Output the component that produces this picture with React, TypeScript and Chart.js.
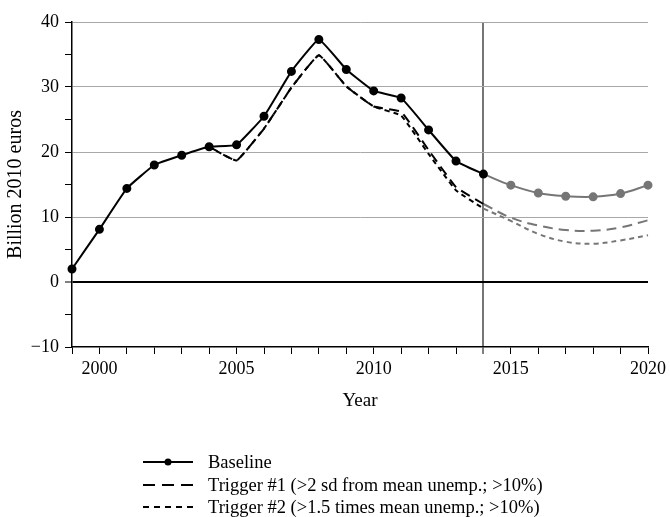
import React, { useEffect, useRef } from "react";
import { Chart, registerables } from "chart.js";

Chart.register(...registerables);

// ---- data ----
const years = [1999, 2000, 2001, 2002, 2003, 2004, 2005, 2006, 2007, 2008, 2009, 2010, 2011, 2012, 2013, 2014, 2015, 2016, 2017, 2018, 2019, 2020];
const baseline = [2.0, 8.1, 14.4, 18.0, 19.5, 20.8, 21.1, 25.5, 32.4, 37.3, 32.7, 29.4, 28.3, 23.4, 18.6, 16.6, 14.9, 13.7, 13.2, 13.1, 13.6, 14.9];
const trigger1 = [null, null, null, null, null, 20.8, 18.7, 23.6, 29.9, 34.9, 30.1, 27.0, 26.2, 20.3, 14.6, 12.0, 9.9, 8.7, 8.0, 7.9, 8.4, 9.5];
const trigger2 = [null, null, null, null, null, 20.8, 18.7, 23.6, 29.9, 34.9, 30.1, 27.0, 25.6, 19.7, 14.1, 11.3, 9.4, 7.4, 6.2, 5.9, 6.4, 7.2];
const projectionStart = 2014;
const seriesNames = ["Baseline", "Trigger #1 (>2 sd from mean unemp.; >10%)", "Trigger #2 (>1.5 times mean unemp.; >10%)"];
const yTicksMajor = [-10, 0, 10, 20, 30, 40];
const xTicksMajor = [2000, 2005, 2010, 2015, 2020];

const FONT = "'Liberation Serif', 'Times New Roman', serif";
const BLACK = "#000000";
const GRAY = "#767676";

function part(values: (number | null)[], hist: boolean) {
  return years.map((x, i) => ({
    x,
    y: (hist ? x <= projectionStart : x >= projectionStart) ? values[i] : null,
  }));
}

export default function App() {
  const ref = useRef<HTMLCanvasElement | null>(null);

  useEffect(() => {
    document.body.style.margin = "0";
    const canvas = ref.current;
    if (!canvas) return;
    const common = { parsing: true, spanGaps: false, clip: false as any };
    const chart = new Chart(canvas, {
      type: "line",
      data: {
        datasets: [
          {
            ...common,
            label: seriesNames[0],
            data: part(baseline, true),
            borderColor: BLACK,
            borderWidth: 2,
            tension: 0.1,
            pointRadius: 3.5,
            pointBackgroundColor: BLACK,
            pointBorderColor: BLACK,
          },
          {
            ...common,
            label: seriesNames[0] + " proj",
            data: part(baseline, false),
            borderColor: GRAY,
            borderWidth: 2,
            tension: 0.4,
            pointRadius: (ctx: any) => (ctx.raw && ctx.raw.x > projectionStart ? 3.5 : 0),
            pointBackgroundColor: GRAY,
            pointBorderColor: GRAY,
          },
          {
            ...common,
            label: seriesNames[1],
            data: part(trigger1, true),
            borderColor: BLACK,
            borderWidth: 2,
            borderDash: [10, 6],
            tension: 0.1,
            pointRadius: 0,
          },
          {
            ...common,
            label: seriesNames[1] + " proj",
            data: part(trigger1, false),
            borderColor: GRAY,
            borderWidth: 2,
            borderDash: [10, 6],
            tension: 0.4,
            pointRadius: 0,
          },
          {
            ...common,
            label: seriesNames[2],
            data: part(trigger2, true),
            borderColor: BLACK,
            borderWidth: 2,
            borderDash: [5, 4],
            tension: 0.1,
            pointRadius: 0,
          },
          {
            ...common,
            label: seriesNames[2] + " proj",
            data: part(trigger2, false),
            borderColor: GRAY,
            borderWidth: 2,
            borderDash: [5, 4],
            tension: 0.4,
            pointRadius: 0,
          },
        ] as any,
      },
      options: {
        responsive: false,
        animation: false,
        events: [],
        layout: { padding: { top: 22, right: 21, bottom: 101, left: 0 } },
        plugins: { legend: { display: false }, tooltip: { enabled: false } },
        scales: {
          x: {
            type: "linear",
            min: years[0],
            max: years[years.length - 1],
            afterFit: (s: any) => {
              s.height = 69;
            },
            ticks: {
              stepSize: 1,
              autoSkip: false,
              maxRotation: 0,
              padding: 4,
              color: BLACK,
              font: { family: FONT, size: 18 },
              callback: (v: any) => (xTicksMajor.includes(Number(v)) ? String(v) : ""),
            },
            grid: {
              drawOnChartArea: true,
              color: (c: any) => (c.tick && c.tick.value === projectionStart ? GRAY : "rgba(0,0,0,0)"),
              lineWidth: (c: any) => (c.tick && c.tick.value === projectionStart ? 2 : 1),
              tickColor: BLACK,
              tickWidth: 1,
              tickLength: 7,
            },
            border: { color: BLACK, width: 1.5 },
            title: {
              display: true,
              text: "Year",
              color: BLACK,
              font: { family: FONT, size: 19 },
              padding: { top: 0, bottom: 4 },
            },
          },
          y: {
            type: "linear",
            min: -10,
            max: 40,
            afterFit: (s: any) => {
              s.width = 72;
            },
            ticks: {
              stepSize: 5,
              autoSkip: false,
              padding: 6,
              color: BLACK,
              font: { family: FONT, size: 18 },
              callback: (v: any) => {
                const n = Number(v);
                if (!yTicksMajor.includes(n)) return "";
                return n < 0 ? "\u2212" + Math.abs(n) : String(n);
              },
            },
            grid: {
              color: (c: any) => {
                const v = c.tick ? c.tick.value : 1;
                if (v === 0) return BLACK;
                if (v % 10 === 0 && v > -10) return "#a8a8a8";
                return "rgba(0,0,0,0)";
              },
              lineWidth: (c: any) => (c.tick && c.tick.value === 0 ? 2 : 1),
              tickColor: BLACK,
              tickWidth: 1,
              tickLength: 7,
            },
            border: { color: BLACK, width: 1.5 },
            title: {
              display: true,
              text: "Billion 2010 euros",
              color: BLACK,
              font: { family: FONT, size: 20 },
              padding: { top: 4, bottom: 0 },
            },
          },
        },
      },
    });
    return () => chart.destroy();
  }, []);

  const rowStyle = (top: number): React.CSSProperties => ({
    position: "absolute",
    left: 143,
    top,
    height: 24,
    display: "flex",
    alignItems: "center",
    whiteSpace: "nowrap",
    fontFamily: FONT,
    fontSize: 18.5,
    lineHeight: "20px",
    color: BLACK,
  });

  return (
    <div style={{ position: "relative", width: 670, height: 517, overflow: "hidden", background: "#fff" }}>
      <canvas ref={ref} width={670} height={517} style={{ display: "block" }} />
      <div style={rowStyle(450)}>
        <svg width={50} height={12} style={{ marginRight: 15 }}>
          <line x1={0} y1={6} x2={50} y2={6} stroke={BLACK} strokeWidth={2} />
          <circle cx={25} cy={6} r={3.5} fill={BLACK} />
        </svg>
        <span>{seriesNames[0]}</span>
      </div>
      <div style={rowStyle(473)}>
        <svg width={50} height={12} style={{ marginRight: 15 }}>
          <line x1={0} y1={6} x2={50} y2={6} stroke={BLACK} strokeWidth={2} strokeDasharray="12 7" />
        </svg>
        <span>{seriesNames[1]}</span>
      </div>
      <div style={rowStyle(495)}>
        <svg width={50} height={12} style={{ marginRight: 15 }}>
          <line x1={0} y1={6} x2={50} y2={6} stroke={BLACK} strokeWidth={2} strokeDasharray="6 5" />
        </svg>
        <span>{seriesNames[2]}</span>
      </div>
    </div>
  );
}
